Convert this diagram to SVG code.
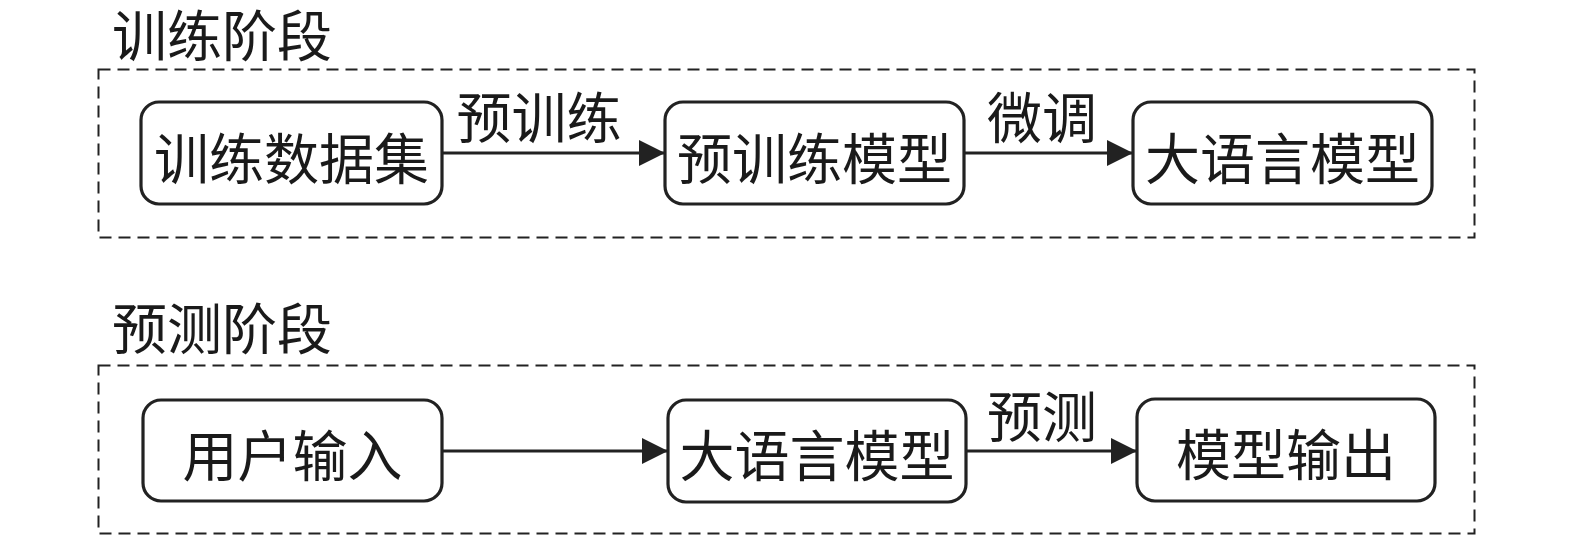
<svg xmlns="http://www.w3.org/2000/svg" width="1575" height="536" viewBox="0 0 1575 536">
<style>
text{font-family:"Noto Sans CJK SC","Noto Sans CJK JP",sans-serif;font-size:55px;fill:#1a1a1a;dominant-baseline:central}
.c{text-anchor:middle}
.frame{fill:none;stroke:#222;stroke-width:2;stroke-dasharray:12 7}
.node rect{fill:#fff;stroke:#222;stroke-width:3.2}
.edge{stroke:#222;stroke-width:3.2;fill:none;marker-end:url(#ah)}
</style>
<defs>
<marker id="ah" markerWidth="26" markerHeight="26" refX="26" refY="13" orient="auto" markerUnits="userSpaceOnUse">
<path d="M0,0 L26,13 L0,26 Z" fill="#222"/>
</marker>
</defs>
<rect width="1575" height="536" fill="#fff"/>
<g id="stage-train">
<text x="112" y="32">训练阶段</text>
<rect class="frame" x="98.5" y="69.5" width="1376" height="168"/>
</g>
<g id="stage-predict">
<text x="112" y="325">预测阶段</text>
<rect class="frame" x="98.5" y="365.5" width="1376" height="168"/>
</g>
<g id="connectors">
<line class="edge" x1="442" y1="153" x2="665" y2="153"/>
<line class="edge" x1="964" y1="153" x2="1133" y2="153"/>
<line class="edge" x1="442" y1="451" x2="668" y2="451"/>
<line class="edge" x1="966" y1="451" x2="1137" y2="451"/>
<text class="c" x="539" y="114">预训练</text>
<text class="c" x="1042" y="114">微调</text>
<text class="c" x="1042" y="413">预测</text>
</g>
<g id="n1" class="node"><rect x="141" y="102" width="301" height="102" rx="18"/><text class="c" x="291.5" y="155">训练数据集</text></g>
<g id="n2" class="node"><rect x="665" y="102" width="299" height="102" rx="18"/><text class="c" x="814.5" y="155">预训练模型</text></g>
<g id="n3" class="node"><rect x="1133" y="102" width="299" height="102" rx="18"/><text class="c" x="1282.5" y="155">大语言模型</text></g>
<g id="n4" class="node"><rect x="143" y="400" width="299" height="101" rx="18"/><text class="c" x="292.5" y="452">用户输入</text></g>
<g id="n5" class="node"><rect x="668" y="400" width="298" height="102" rx="18"/><text class="c" x="817" y="452">大语言模型</text></g>
<g id="n6" class="node"><rect x="1137" y="399" width="298" height="102" rx="18"/><text class="c" x="1286" y="451">模型输出</text></g>
</svg>
